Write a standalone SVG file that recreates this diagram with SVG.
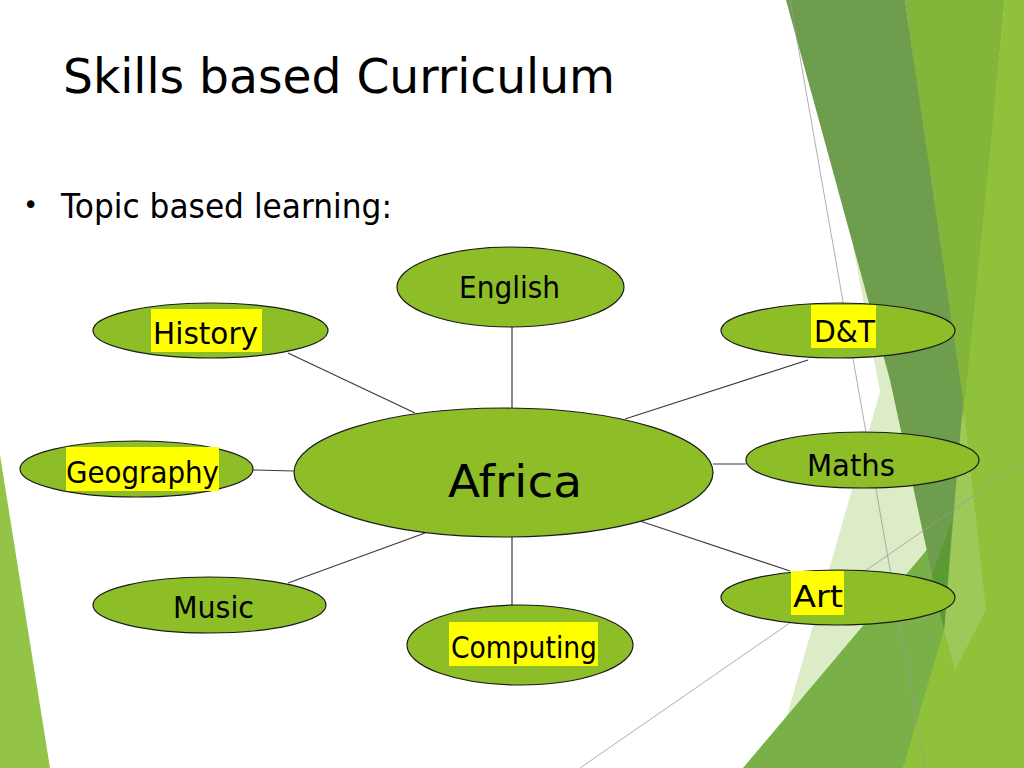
<svg xmlns="http://www.w3.org/2000/svg" width="1024" height="768" viewBox="0 0 1024 768">
  <style>
    .node { fill: #8DBE27; stroke: #1a1a1a; stroke-width: 1.2; }
    .lbl { font-family: "DejaVu Sans", "Noto Sans", sans-serif; fill: #000; }
    .hl { fill: #FFFF00; }
    .conn line { stroke: #3a3a3a; stroke-width: 1.2; }
    .guide { stroke: #9a9a9a; stroke-width: 0.8; fill: none; }
  </style>
  <rect width="1024" height="768" fill="#FFFFFF"/>
  <g id="background">
    <polygon points="0,455 50,768 0,768" fill="#93C447"/>
    <polygon points="853,245 900,245 1024,300 1024,768 772,768 880,392" fill="#DCECC6"/>
    <polygon points="1005,0 1024,0 1024,768 903,768 963,400" fill="#8FC23A"/>
    <polygon points="963,400 986,610 955,670 944,630" fill="#9CC958"/>
    <polygon points="743,768 952,520 944,630 903,768" fill="#79B148"/>
    <polygon points="905,0 1005,0 963,420" fill="#84B53B"/>
    <polygon points="786,0 905,0 963,400 944,630 890,380" fill="#6E9D4E"/>
    <polygon points="952,520 944,630 932,575" fill="#5C9A33"/>
    <line class="guide" x1="790" y1="0" x2="925" y2="768"/>
    <line class="guide" x1="580" y1="768" x2="1024" y2="461" stroke="#c4c4c4"/>
  </g>
  <g id="title">
    <text class="lbl" x="63" y="93" font-size="48" textLength="552" lengthAdjust="spacingAndGlyphs" fill="#111">Skills based Curriculum</text>
  </g>
  <g id="bullet">
    <text class="lbl" x="23" y="214" font-size="26">•</text>
    <text class="lbl" x="61" y="218" font-size="33" textLength="331" lengthAdjust="spacingAndGlyphs">Topic based learning:</text>
  </g>
  <g id="connectors" class="conn">
    <line x1="512" y1="327" x2="512" y2="408" stroke="#666" stroke-width="1.6"/>
    <line x1="288" y1="353" x2="415" y2="413"/>
    <line x1="808" y1="360" x2="625" y2="419"/>
    <line x1="253" y1="470" x2="294" y2="471"/>
    <line x1="713" y1="464" x2="746" y2="464"/>
    <line x1="640" y1="521" x2="790" y2="571"/>
    <line x1="288" y1="583" x2="425" y2="533"/>
    <line x1="512" y1="537" x2="512" y2="606" stroke="#666" stroke-width="1.6"/>
  </g>
  <g id="node-africa">
    <ellipse class="node" cx="503.5" cy="472.5" rx="209.5" ry="64.5"/>
    <text class="lbl" x="448" y="497" font-size="45" textLength="134" lengthAdjust="spacingAndGlyphs">Africa</text>
  </g>
  <g id="node-english">
    <ellipse class="node" cx="510.5" cy="287" rx="113.5" ry="40"/>
    <text class="lbl" x="459" y="298" font-size="31" textLength="101" lengthAdjust="spacingAndGlyphs">English</text>
  </g>
  <g id="node-history">
    <ellipse class="node" cx="210.5" cy="330.5" rx="117.5" ry="27.5"/>
    <rect class="hl" x="151" y="309" width="111" height="43"/>
    <text class="lbl" x="153" y="344" font-size="30" textLength="105" lengthAdjust="spacingAndGlyphs">History</text>
  </g>
  <g id="node-dt">
    <ellipse class="node" cx="838" cy="330.5" rx="117" ry="27.5"/>
    <rect class="hl" x="811" y="305" width="65" height="43"/>
    <text class="lbl" x="814" y="342" font-size="31" textLength="61" lengthAdjust="spacingAndGlyphs">D&amp;T</text>
  </g>
  <g id="node-geography">
    <ellipse class="node" cx="136.5" cy="469" rx="116.5" ry="28"/>
    <rect class="hl" x="66" y="447" width="153" height="44"/>
    <text class="lbl" x="66" y="483" font-size="31" textLength="153" lengthAdjust="spacingAndGlyphs">Geography</text>
  </g>
  <g id="node-maths">
    <ellipse class="node" cx="862.5" cy="460" rx="116.5" ry="28"/>
    <text class="lbl" x="807" y="476" font-size="31" textLength="88" lengthAdjust="spacingAndGlyphs">Maths</text>
  </g>
  <g id="node-music">
    <ellipse class="node" cx="209.5" cy="605" rx="116.5" ry="28"/>
    <text class="lbl" x="173" y="618" font-size="30" textLength="81" lengthAdjust="spacingAndGlyphs">Music</text>
  </g>
  <g id="node-art">
    <ellipse class="node" cx="838" cy="597.5" rx="117" ry="27.5"/>
    <rect class="hl" x="791" y="571" width="53" height="44"/>
    <text class="lbl" x="793" y="607" font-size="31" textLength="50" lengthAdjust="spacingAndGlyphs">Art</text>
  </g>
  <g id="node-computing">
    <ellipse class="node" cx="520" cy="645" rx="113" ry="40"/>
    <rect class="hl" x="449" y="622" width="149" height="44"/>
    <text class="lbl" x="451" y="658" font-size="30" textLength="146" lengthAdjust="spacingAndGlyphs">Computing</text>
  </g>
</svg>
